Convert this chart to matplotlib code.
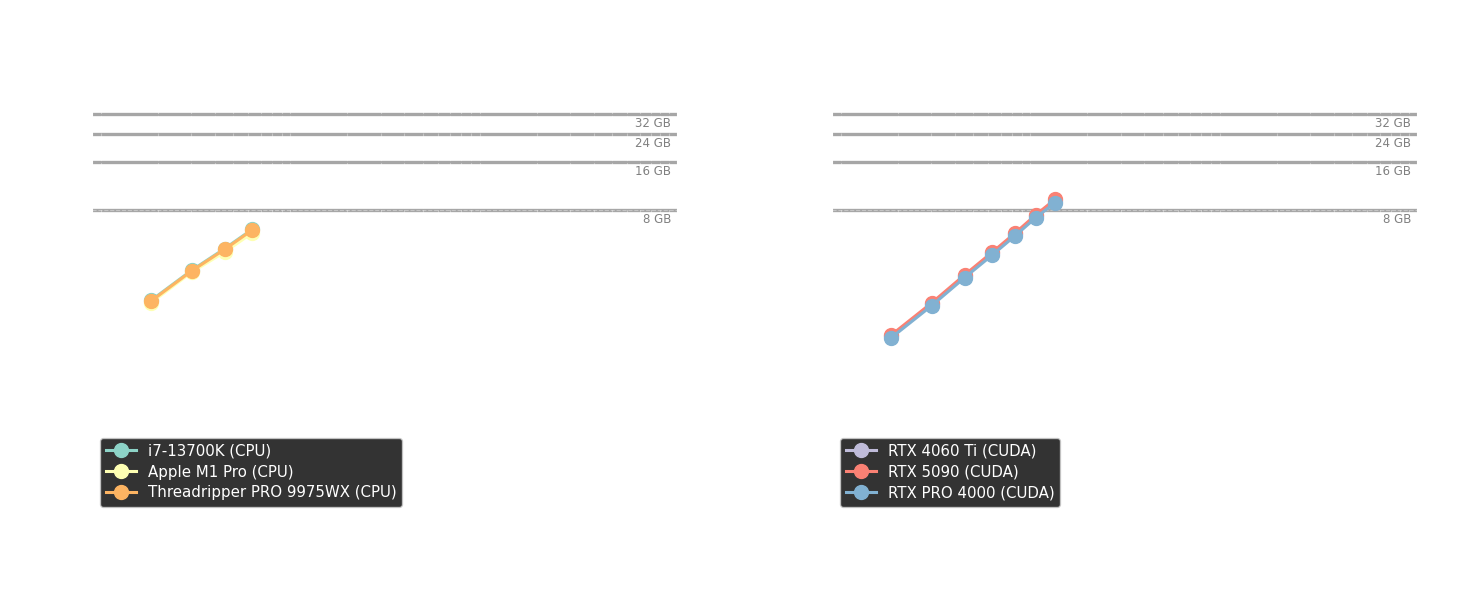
import numpy as np
import matplotlib.pyplot as plt

# input sizes (shared by both panels), log x axis
sizes = [0.184, 0.301, 0.450, 0.630, 0.833, 1.07, 1.35]

cpu_names = ['i7-13700K (CPU)', 'Apple M1 Pro (CPU)', 'Threadripper PRO 9975WX (CPU)']
cpu_mem = [
    [2.15, 3.32, 4.55, 6.02],
    [2.08, 3.23, 4.33, 5.71],
    [2.13, 3.29, 4.50, 5.96],
]
cpu_colors = ['#8dd3c7', '#feffb3', '#fdb462']

gpu_names = ['RTX 4060 Ti (CUDA)', 'RTX 5090 (CUDA)', 'RTX PRO 4000 (CUDA)']
gpu_mem = [
    [1.28, 2.04, 3.06, 4.25, 5.62, 7.30, 9.10],
    [1.30, 2.07, 3.11, 4.32, 5.71, 7.42, 9.27],
    [1.25, 1.99, 2.99, 4.15, 5.49, 7.13, 8.85],
]
gpu_colors = ['#bfbbd9', '#fa8174', '#81b1d2']

mem_limits = [8, 16, 24, 32]
limit_labels = ['8 GB', '16 GB', '24 GB', '32 GB']

plt.style.use('dark_background')

W, H = 1482, 595
fig = plt.figure(figsize=(W / 100, H / 100), dpi=100, facecolor='white')
ax_cpu = fig.add_axes([92 / W, 81 / H, 585 / W, 448 / H])
ax_gpu = fig.add_axes([832 / W, 81 / H, 585 / W, 448 / H])


def draw_panel(ax, names, mems, colors):
    ax.set_facecolor('white')
    for lim, lab in zip(mem_limits, limit_labels):
        ax.axhline(lim, color='#a6a6a6', lw=2.4, zorder=0.3)
        ax.text(0.99, lim * 0.955, lab, transform=ax.get_yaxis_transform(),
                ha='right', va='top', fontsize=8.5, color='#808080')
    for name, mem, c in zip(names, mems, colors):
        ax.plot(sizes[:len(mem)], mem, '-o', color=c, lw=2.2, ms=10, label=name)
    ax.set_xscale('log')
    ax.set_yscale('log')
    ax.set_xlim(0.0896, 110.4)
    ax.set_ylim(0.0975, 64)
    ax.set_axisbelow(True)
    ax.grid(True, which='both', color='white', ls='--', lw=0.8, alpha=0.35)
    ax.legend(loc='lower left', fontsize=10.8, labelspacing=0.4)


draw_panel(ax_cpu, cpu_names, cpu_mem, cpu_colors)
draw_panel(ax_gpu, gpu_names, gpu_mem, gpu_colors)

fig.savefig('out.png', dpi=100, facecolor='white')
